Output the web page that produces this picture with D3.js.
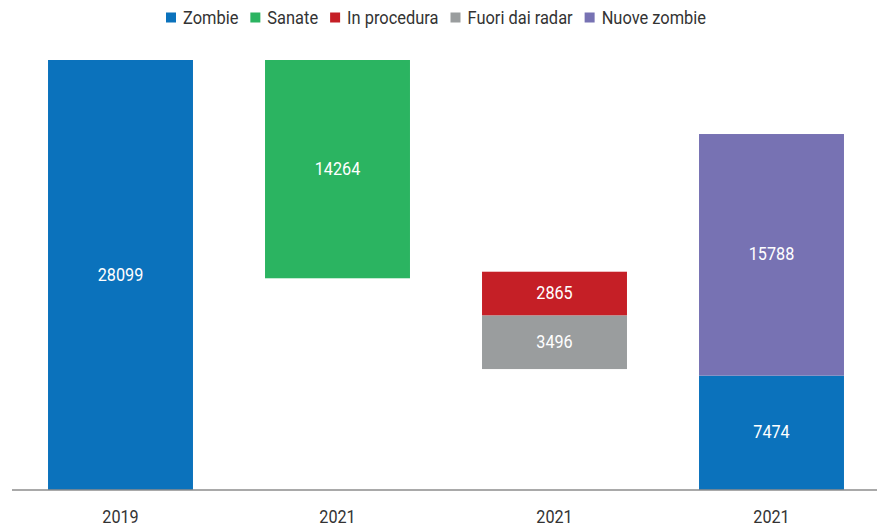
<!DOCTYPE html>
<meta charset="utf-8">
<style>
body { margin: 0; background: #fff; }
text { font-family: Roboto, "Noto Sans", sans-serif; }
.axis-line { stroke: #8c8c8c; stroke-width: 1.5px; }
.tick-label { fill: #333; font-size: 18px; }
.value-label { fill: #fff; font-size: 18px; }
.legend-label { fill: #333; font-size: 18px; }
</style>
<body>
<script src="https://d3js.org/d3.v7.min.js"></script>
<script>

var width = 877,
    height = 527;

// columns on the x axis
var columns = ["2019", "2021", "2021", "2021"];

// legend / series
var series = ["Zombie", "Sanate", "In procedura", "Fuori dai radar", "Nuove zombie"];
var seriesColors = ["#0b72bc", "#2bb461", "#c51f26", "#9a9d9e", "#7772b3"];

// bar segments: column index, series, base value, size
var segColumn = [0, 1, 2, 2, 3, 3];
var segSeries = ["Zombie", "Sanate", "In procedura", "Fuori dai radar", "Zombie", "Nuove zombie"];
var segBase   = [0, 13835, 11399, 7903, 0, 7474];
var segValue  = [28099, 14264, 2865, 3496, 7474, 15788];

var segments = segValue.map(function(v, i) {
  return {col: segColumn[i], series: segSeries[i], base: segBase[i], value: v};
});

var sx = 0.9; // squeeze text to look like the condensed face

var color = d3.scaleOrdinal().domain(series).range(seriesColors);

var x = d3.scaleBand()
    .domain(d3.range(columns.length))
    .range([12, 880])
    .paddingInner(0.332)
    .paddingOuter(0.166);

var y = d3.scaleLinear()
    .domain([0, 28099])
    .range([490, 60]);

var svg = d3.select("body").append("svg")
    .attr("width", width)
    .attr("height", height);

svg.selectAll(".bar")
    .data(segments)
  .enter().append("rect")
    .attr("class", "bar")
    .attr("x", function(d) { return x(d.col); })
    .attr("width", x.bandwidth())
    .attr("y", function(d) { return y(d.base + d.value); })
    .attr("height", function(d) { return y(d.base) - y(d.base + d.value); })
    .style("fill", function(d) { return color(d.series); });

svg.selectAll(".value-label")
    .data(segments)
  .enter().append("text")
    .attr("class", "value-label")
    .attr("text-anchor", "middle")
    .attr("transform", function(d) {
      var cy = (y(d.base) + y(d.base + d.value)) / 2 + 5.5;
      return "translate(" + (x(d.col) + x.bandwidth() / 2) + "," + cy + ") scale(" + sx + ",1)";
    })
    .text(function(d) { return d.value; });

svg.append("line")
    .attr("class", "axis-line")
    .attr("x1", 12).attr("x2", width)
    .attr("y1", y(0)).attr("y2", y(0));

svg.selectAll(".tick-label")
    .data(columns)
  .enter().append("text")
    .attr("class", "tick-label")
    .attr("text-anchor", "middle")
    .attr("transform", function(d, i) {
      return "translate(" + (x(i) + x.bandwidth() / 2) + ",523) scale(" + sx + ",1)";
    })
    .text(function(d) { return d; });

// legend
var legend = svg.append("g");
var lx = 166, lsx = 0.913;
series.forEach(function(s) {
  legend.append("rect")
      .attr("x", lx).attr("y", 12.5)
      .attr("width", 10).attr("height", 10)
      .style("fill", color(s));
  var t = legend.append("text")
      .attr("class", "legend-label")
      .attr("transform", "translate(" + (lx + 17) + ",24) scale(" + lsx + ",1)")
      .text(s);
  lx += 17 + t.node().getComputedTextLength() * lsx + 12;
});

</script>
